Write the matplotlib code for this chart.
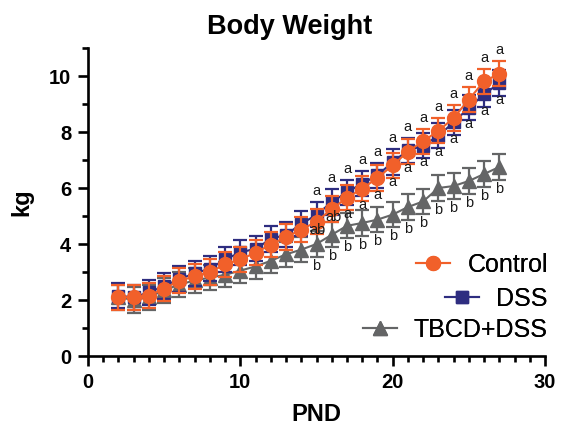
import matplotlib
matplotlib.use('Agg')
import matplotlib.pyplot as plt
from matplotlib.lines import Line2D
from matplotlib.ticker import MultipleLocator

plt.rcParams['font.family'] = ['Liberation Sans', 'DejaVu Sans']

# ---------------- data ----------------
pnd = list(range(2, 28))
control = [2.10, 2.10, 2.16, 2.41, 2.69, 2.84, 3.00, 3.27, 3.45, 3.69, 3.98, 4.25, 4.51,
           4.80, 5.25, 5.65, 5.98, 6.36, 6.81, 7.30, 7.67, 8.04, 8.50, 9.16, 9.81, 10.08]
dss = [2.15, 2.10, 2.27, 2.50, 2.75, 2.95, 3.12, 3.45, 3.70, 3.83, 4.18, 4.33, 4.72,
       5.04, 5.50, 5.85, 6.16, 6.45, 6.93, 7.34, 7.51, 7.87, 8.34, 8.87, 9.34, 9.75]
tbcd = [2.10, 2.00, 2.10, 2.35, 2.55, 2.70, 2.80, 2.90, 3.05, 3.20, 3.40, 3.63, 3.80,
        4.00, 4.33, 4.65, 4.75, 4.87, 5.05, 5.32, 5.52, 6.00, 6.07, 6.25, 6.50, 6.75]
control_err = [0.45] * 26
dss_err = [0.45] * 26
tbcd_err = [0.45] * 26

letter_pnd = list(range(15, 28))
upper_letters = ['a'] * 13
lower_letters = ['ab', 'ab'] + ['a'] * 11
tbcd_letters = ['b'] * 13

series_names = ['Control', 'DSS', 'TBCD+DSS']
x_ticks = [0, 10, 20, 30]
y_ticks = [0, 2, 4, 6, 8, 10]

c_ctrl = '#F1602A'
c_dss = '#2E2D80'
c_tbcd = '#646566'

# ---------------- figure ----------------
W, H = 565, 433
fig = plt.figure(figsize=(W / 100, H / 100), dpi=100)
ax = fig.add_axes([88 / W, 1 - 356 / H, (545 - 88) / W, (356 - 48) / H])

ekw = dict(lw=1.5, elinewidth=1.6, capsize=5, capthick=1.6)
ax.errorbar(pnd, tbcd, yerr=tbcd_err, color=c_tbcd, marker='^', ms=10, zorder=2, **ekw)
ax.errorbar(pnd, dss, yerr=dss_err, color=c_dss, marker='s', ms=9, zorder=3, **ekw)
ax.errorbar(pnd, control, yerr=control_err, color=c_ctrl, marker='o', ms=10, zorder=4, **ekw)

# significance letters
lkw = dict(textcoords='offset points', ha='center', va='center', fontsize=10.5,
           color='#1a1a1a', zorder=6)
for i, xv in enumerate(letter_pnd):
    k = pnd.index(xv)
    top = max(control[k], dss[k])
    low = min(control[k], dss[k])
    ax.annotate(upper_letters[i], (xv, top), xytext=(0, 17), **lkw)
    if lower_letters[i] == 'ab':
        ax.annotate(lower_letters[i], (xv, control[k]), xytext=(1, -6), **lkw)
    else:
        ax.annotate(lower_letters[i], (xv, low), xytext=(0, -12), **lkw)
    ax.annotate(tbcd_letters[i], (xv, tbcd[k]), xytext=(0, -15.5), **lkw)

# axes styling
ax.set_xlim(0, 30)
ax.set_ylim(0, 11)
ax.set_xticks(x_ticks)
ax.set_yticks(y_ticks)
ax.xaxis.set_minor_locator(MultipleLocator(1))
ax.yaxis.set_minor_locator(MultipleLocator(1))
for s in ['top', 'right']:
    ax.spines[s].set_visible(False)
for s in ['left', 'bottom']:
    ax.spines[s].set_linewidth(1.9)
ax.tick_params(which='major', length=7, width=1.9, labelsize=14.5, pad=5)
ax.tick_params(which='minor', length=4, width=1.9)
for lab in ax.get_xticklabels() + ax.get_yticklabels():
    lab.set_fontweight('bold')

ax.set_xlabel('PND', fontsize=17, fontweight='bold', labelpad=8)
ax.set_ylabel('kg', fontsize=17, fontweight='bold', labelpad=11)

fig.text(290 / W, 1 - 27 / H, 'Body Weight', ha='center', va='center',
         fontsize=19.5, fontweight='bold')

# legend: right-aligned entries
handles = [
    Line2D([], [], color=c_ctrl, marker='o', ms=10, lw=1.5),
    Line2D([], [], color=c_dss, marker='s', ms=9, lw=1.5),
    Line2D([], [], color=c_tbcd, marker='^', ms=10, lw=1.5),
]
ypos = [265, 299, 330]
for h, name, yp in zip(handles, series_names, ypos):
    leg = fig.legend([h], [name], loc='center right',
                     bbox_to_anchor=(548 / W, 1 - yp / H), frameon=False,
                     fontsize=18, handlelength=1.35, handletextpad=0.7,
                     borderpad=0, borderaxespad=0)
    fig.add_artist(leg)

fig.savefig('out.png', dpi=100)
